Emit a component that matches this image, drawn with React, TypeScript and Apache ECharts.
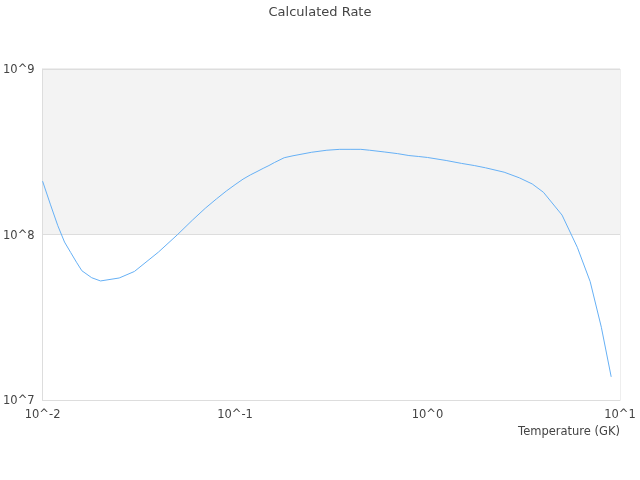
import React, { useEffect, useRef } from "react";
import * as echarts from "echarts";

const temperatures = [
  0.01, 0.011, 0.012, 0.013, 0.014, 0.015, 0.016, 0.018, 0.02, 0.025, 0.03,
  0.04, 0.05, 0.06, 0.07, 0.08, 0.09, 0.1, 0.11, 0.12, 0.13, 0.14, 0.15, 0.16,
  0.18, 0.2, 0.25, 0.3, 0.35, 0.4, 0.45, 0.5, 0.6, 0.7, 0.8, 0.9, 1.0, 1.25,
  1.5, 1.75, 2.0, 2.5, 3.0, 3.5, 4.0, 5.0, 6.0, 7.0, 8.0, 9.0,
];

const rates = [
  2.1e8, 1.51e8, 1.13e8, 9.0e7, 7.78e7, 6.8e7, 6.04e7, 5.48e7, 5.24e7, 5.46e7,
  5.98e7, 7.83e7, 9.93e7, 1.22e8, 1.44e8, 1.64e8, 1.83e8, 2.0e8, 2.16e8,
  2.29e8, 2.4e8, 2.51e8, 2.61e8, 2.72e8, 2.91e8, 2.99e8, 3.14e8, 3.23e8,
  3.27e8, 3.27e8, 3.27e8, 3.23e8, 3.15e8, 3.08e8, 3.0e8, 2.96e8, 2.92e8,
  2.8e8, 2.69e8, 2.61e8, 2.53e8, 2.38e8, 2.2e8, 2.02e8, 1.8e8, 1.31e8, 8.37e7,
  5.19e7, 2.75e7, 1.38e7,
];

const titleText = "Calculated Rate";
const xAxisName = "Temperature (GK)";

const powLabel = (v: number) => "10^" + Math.round(Math.log10(v));

export default function App() {
  const ref = useRef<HTMLDivElement>(null);
  useEffect(() => {
    if (!ref.current) return;
    const chart = echarts.init(ref.current, undefined, { renderer: "svg" });
    const font = "DejaVu Sans";
    const textColor = "#444";
    chart.setOption({
      animation: false,
      title: {
        text: titleText,
        left: "center",
        top: 0,
        textStyle: { fontFamily: font, fontSize: 13, fontWeight: "normal", color: textColor },
      },
      grid: {
        left: 40,
        right: 20,
        top: 69,
        bottom: 80,
        show: true,
        borderColor: "#ddd",
        borderWidth: 1,
        backgroundColor: "transparent",
      },
      xAxis: {
        type: "log",
        logBase: 10,
        min: 0.01,
        max: 10,
        name: xAxisName,
        nameLocation: "end",
        nameGap: 0,
        nameTextStyle: {
          fontFamily: font,
          fontSize: 11.5,
          color: textColor,
          align: "right",
          verticalAlign: "top",
          padding: [25, 0, 0, 0],
        },
        axisLine: { show: true, lineStyle: { color: "#ddd" } },
        axisTick: { show: false },
        splitLine: { show: false },
        axisLabel: {
          fontFamily: font,
          fontSize: 11.5,
          color: textColor,
          margin: 8,
          formatter: powLabel,
          showMinLabel: true,
          showMaxLabel: true,
        },
      },
      yAxis: {
        type: "log",
        logBase: 10,
        min: 1e7,
        max: 1e9,
        axisLine: { show: true, lineStyle: { color: "#ddd" } },
        axisTick: { show: false },
        splitLine: { show: true, lineStyle: { color: "#ddd" } },
        splitArea: { show: true, areaStyle: { color: ["#ffffff", "#f3f3f3"] } },
        axisLabel: {
          fontFamily: font,
          fontSize: 11.5,
          color: textColor,
          margin: 8,
          formatter: powLabel,
        },
      },
      series: [
        {
          type: "line",
          data: temperatures.map((t, i) => [t, rates[i]]),
          showSymbol: false,
          symbol: "none",
          lineStyle: { color: "#66b0f5", width: 1 },
          itemStyle: { color: "#66b0f5" },
        },
      ],
    });
    return () => chart.dispose();
  }, []);
  return (
    <div
      ref={ref}
      style={{ position: "fixed", left: 0, top: 0, width: 640, height: 480 }}
    />
  );
}
